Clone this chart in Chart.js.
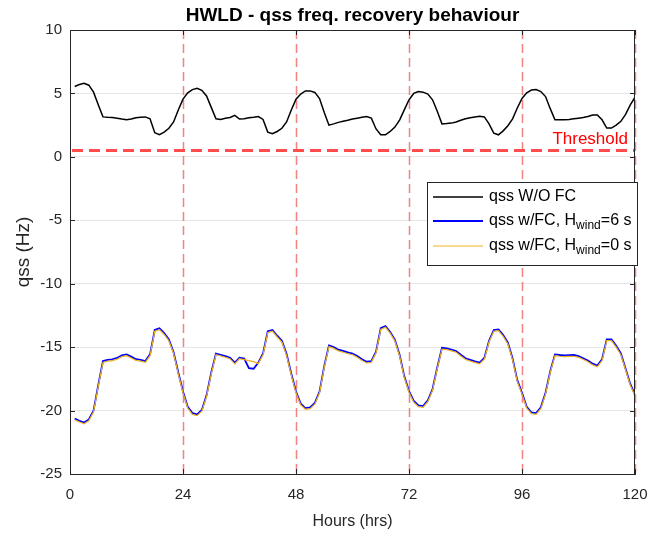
<!DOCTYPE html>
<html>
<head>
<meta charset="utf-8">
<script src="https://cdn.jsdelivr.net/npm/chart.js@4/dist/chart.umd.min.js"></script>
<style>
  html, body { margin: 0; padding: 0; background: #fff; }
  #wrap { width: 649px; height: 534px; }
</style>
</head>
<body>
<div id="wrap"><canvas id="chart"></canvas></div>
<script>
// hourly samples, hour 1..120
const hours = Array.from({ length: 120 }, (_, i) => i + 1);

const qssNoFC = [
  5.55, 5.7, 5.8, 5.65, 5.1, 4.1, 3.15, 3.12, 3.1, 3.05, 2.98, 2.92, 2.98, 3.08, 3.12, 3.15, 3.0, 1.9, 1.75, 1.95, 2.25, 2.75, 3.7, 4.55,
  5.05, 5.3, 5.4, 5.25, 4.8, 3.9, 3.0, 2.95, 3.05, 3.1, 3.27, 2.98, 3.0, 3.08, 3.12, 3.18, 2.95, 1.95, 1.82, 2.0, 2.25, 2.75, 3.7, 4.55,
  4.95, 5.2, 5.2, 5.08, 4.6, 3.5, 2.5, 2.6, 2.72, 2.8, 2.88, 2.98, 3.05, 3.12, 3.18, 3.05, 2.2, 1.74, 1.74, 2.0, 2.35, 2.9, 3.7, 4.5,
  5.0, 5.15, 5.1, 4.95, 4.5, 3.6, 2.6, 2.62, 2.66, 2.75, 2.88, 3.0, 3.08, 3.15, 3.2, 3.15, 2.6, 1.87, 1.74, 2.05, 2.45, 3.0, 3.85, 4.6,
  5.05, 5.27, 5.3, 5.15, 4.75, 3.8, 2.92, 2.92, 2.92, 2.95, 3.0, 3.05, 3.1, 3.18, 3.3, 3.3, 2.92, 2.27, 2.27, 2.5, 2.8, 3.35, 4.1, 4.7
];

const qssFC6 = [
  -20.63, -20.8, -20.94, -20.7, -20.0, -18.0, -16.1, -16.0, -15.96, -15.85, -15.65, -15.57, -15.75, -15.95, -16.0, -16.1, -15.57, -13.65, -13.52, -13.9, -14.39, -15.4, -17.0, -18.5,
  -19.7, -20.2, -20.3, -19.95, -18.8, -17.0, -15.5, -15.6, -15.7, -15.83, -16.22, -15.83, -15.9, -16.65, -16.7, -16.22, -15.5, -13.75, -13.65, -14.1, -14.5, -15.55, -17.1, -18.5,
  -19.45, -19.8, -19.75, -19.4, -18.5, -16.5, -14.86, -15.0, -15.2, -15.3, -15.42, -15.5, -15.7, -15.95, -16.15, -16.1, -15.35, -13.5, -13.34, -13.8, -14.42, -15.6, -17.3, -18.45,
  -19.24, -19.6, -19.65, -19.2, -18.3, -16.6, -15.05, -15.1, -15.2, -15.3, -15.6, -15.88, -16.0, -16.12, -16.22, -15.85, -14.5, -13.65, -13.6, -14.05, -14.65, -15.9, -17.6, -18.6,
  -19.7, -20.15, -20.2, -19.75, -18.6, -16.9, -15.57, -15.62, -15.65, -15.63, -15.62, -15.7, -15.88, -16.05, -16.3, -16.45, -15.96, -14.39, -14.39, -14.9, -15.5, -16.7, -17.9, -18.75
];

const qssFC0 = [
  -20.73, -20.9, -21.04, -20.8, -20.1, -18.1, -16.2, -16.1, -16.06, -15.95, -15.75, -15.67, -15.85, -16.05, -16.1, -16.2, -15.67, -13.75, -13.62, -14.0, -14.49, -15.5, -17.1, -18.6,
  -19.8, -20.3, -20.4, -20.05, -18.9, -17.1, -15.6, -15.7, -15.8, -15.93, -16.32, -15.9, -15.98, -16.06, -16.14, -16.3, -15.6, -13.85, -13.75, -14.2, -14.6, -15.65, -17.2, -18.6,
  -19.55, -19.9, -19.85, -19.5, -18.6, -16.6, -14.96, -15.1, -15.3, -15.4, -15.52, -15.6, -15.8, -16.05, -16.25, -16.2, -15.45, -13.6, -13.44, -13.9, -14.52, -15.7, -17.4, -18.55,
  -19.34, -19.7, -19.75, -19.3, -18.4, -16.7, -15.15, -15.2, -15.3, -15.4, -15.7, -15.98, -16.1, -16.22, -16.32, -15.95, -14.6, -13.75, -13.7, -14.15, -14.75, -16.0, -17.7, -18.7,
  -19.8, -20.25, -20.3, -19.85, -18.7, -17.0, -15.67, -15.72, -15.75, -15.73, -15.72, -15.8, -15.98, -16.15, -16.4, -16.55, -16.06, -14.49, -14.49, -15.0, -15.6, -16.8, -18.0, -18.85
];

const dayMarks = [24, 48, 72, 96, 120];
const thresholdValue = 0.5;
const xTicks = [0, 24, 48, 72, 96, 120];

const FONT = "'Liberation Sans', Arial, Helvetica, sans-serif";
const TXT = '#262626';

const legendItems = [
  { color: '#000000', width: 1.5, text: 'qss W/O FC', sub: null },
  { color: '#0000ff', width: 2, text: 'qss w/FC, H', sub: ['wind', '=6 s'] },
  { color: '#EDB120', width: 1, text: 'qss w/FC, H', sub: ['wind', '=0 s'] }
];

const pts = vals => hours.map((h, i) => ({ x: h, y: vals[i] }));

const decor = {
  id: 'decor',
  beforeDatasetsDraw(chart) {
    const { ctx, chartArea: a, scales: { x } } = chart;
    ctx.save();
    ctx.strokeStyle = 'rgba(240,110,110,0.85)';
    ctx.lineWidth = 1.5;
    ctx.setLineDash([9, 5]);
    dayMarks.forEach(h => {
      const px = Math.round(x.getPixelForValue(h)) + 0.5;
      ctx.beginPath(); ctx.moveTo(px, a.top); ctx.lineTo(px, a.bottom); ctx.stroke();
    });
    ctx.restore();
  },
  afterDatasetsDraw(chart) {
    const { ctx, chartArea: a, scales: { x, y } } = chart;
    ctx.save();
    // threshold
    const ty = y.getPixelForValue(thresholdValue);
    ctx.strokeStyle = '#ff4d4d';
    ctx.lineWidth = 3;
    ctx.setLineDash([11, 6]);
    ctx.beginPath(); ctx.moveTo(a.left + 2, ty); ctx.lineTo(a.right, ty); ctx.stroke();
    ctx.setLineDash([]);
    ctx.fillStyle = '#ff0000';
    ctx.font = '17px ' + FONT;
    ctx.textAlign = 'right';
    ctx.textBaseline = 'alphabetic';
    ctx.fillText('Threshold', a.right - 7, ty - 7);

    // box + inward ticks
    ctx.strokeStyle = TXT;
    ctx.lineWidth = 1;
    ctx.strokeRect(a.left + 0.5, a.top + 0.5, a.right - a.left - 1, a.bottom - a.top);
    y.ticks.forEach(t => {
      const py = Math.round(y.getPixelForValue(t.value)) + 0.5;
      ctx.beginPath();
      ctx.moveTo(a.left, py); ctx.lineTo(a.left + 5, py);
      ctx.moveTo(a.right, py); ctx.lineTo(a.right - 5, py);
      ctx.stroke();
    });
    xTicks.forEach(v => {
      const px = Math.round(x.getPixelForValue(v)) + 0.5;
      ctx.beginPath();
      ctx.moveTo(px, a.bottom); ctx.lineTo(px, a.bottom - 5);
      ctx.moveTo(px, a.top); ctx.lineTo(px, a.top + 5);
      ctx.stroke();
    });

    // title
    ctx.fillStyle = '#000';
    ctx.font = 'bold 19px ' + FONT;
    ctx.textAlign = 'center';
    ctx.textBaseline = 'middle';
    ctx.fillText('HWLD - qss freq. recovery behaviour', (a.left + a.right) / 2, 16);

    // legend
    const lx = 427, ly = 182, lw = 210, lh = 83;
    ctx.fillStyle = '#fff';
    ctx.fillRect(lx, ly, lw, lh);
    ctx.strokeStyle = TXT;
    ctx.lineWidth = 1;
    ctx.strokeRect(lx + 0.5, ly + 0.5, lw, lh);
    const rows = [197, 221, 246];
    legendItems.forEach((it, i) => {
      const ry = rows[i];
      ctx.strokeStyle = it.color;
      ctx.lineWidth = it.width;
      ctx.beginPath(); ctx.moveTo(433, ry); ctx.lineTo(483, ry); ctx.stroke();
      ctx.fillStyle = '#000';
      ctx.textAlign = 'left';
      ctx.textBaseline = 'middle';
      ctx.font = '16px ' + FONT;
      ctx.fillText(it.text, 489, ry);
      if (it.sub) {
        let cx = 489 + ctx.measureText(it.text).width;
        ctx.font = '12px ' + FONT;
        ctx.fillText(it.sub[0], cx, ry + 5);
        cx += ctx.measureText(it.sub[0]).width;
        ctx.font = '16px ' + FONT;
        ctx.fillText(it.sub[1], cx, ry);
      }
    });
    ctx.restore();
  }
};

new Chart(document.getElementById('chart'), {
  type: 'line',
  data: {
    datasets: [
      { label: 'qss W/O FC', data: pts(qssNoFC), borderColor: '#000000', borderWidth: 1.5, pointRadius: 0, tension: 0 },
      { label: 'qss w/FC, Hwind=0 s', data: pts(qssFC0), borderColor: '#EDB120', borderWidth: 1.2, pointRadius: 0, tension: 0 },
      { label: 'qss w/FC, Hwind=6 s', data: pts(qssFC6), borderColor: '#0000ff', borderWidth: 1.8, pointRadius: 0, tension: 0 }
    ]
  },
  options: {
    responsive: true,
    maintainAspectRatio: false,
    animation: false,
    layout: { padding: { left: 0, right: 14, top: 30, bottom: 0 } },
    plugins: { legend: { display: false }, title: { display: false }, tooltip: { enabled: false } },
    scales: {
      x: {
        type: 'linear', min: 0, max: 120,
        afterFit: s => { s.height = 60; s.paddingLeft = 0; s.paddingRight = 0; },
        afterBuildTicks: s => { s.ticks = xTicks.map(v => ({ value: v })); },
        grid: { display: false, drawTicks: false },
        border: { color: TXT },
        ticks: { color: TXT, padding: 12, font: { family: FONT, size: 15 }, maxRotation: 0 },
        title: { display: true, text: 'Hours (hrs)', color: TXT, font: { family: FONT, size: 16 }, padding: { top: 0, bottom: 3 } }
      },
      y: {
        min: -25, max: 10,
        afterFit: s => { s.width = 70; s.paddingTop = 0; s.paddingBottom = 0; },
        grid: { color: '#e6e6e6', drawTicks: false },
        border: { color: TXT },
        ticks: { stepSize: 5, color: TXT, padding: 8, font: { family: FONT, size: 15 } },
        title: { display: true, text: 'qss (Hz)', color: TXT, font: { family: FONT, size: 19 }, padding: { top: 12, bottom: 0 } }
      }
    }
  },
  plugins: [decor]
});
</script>
</body>
</html>
